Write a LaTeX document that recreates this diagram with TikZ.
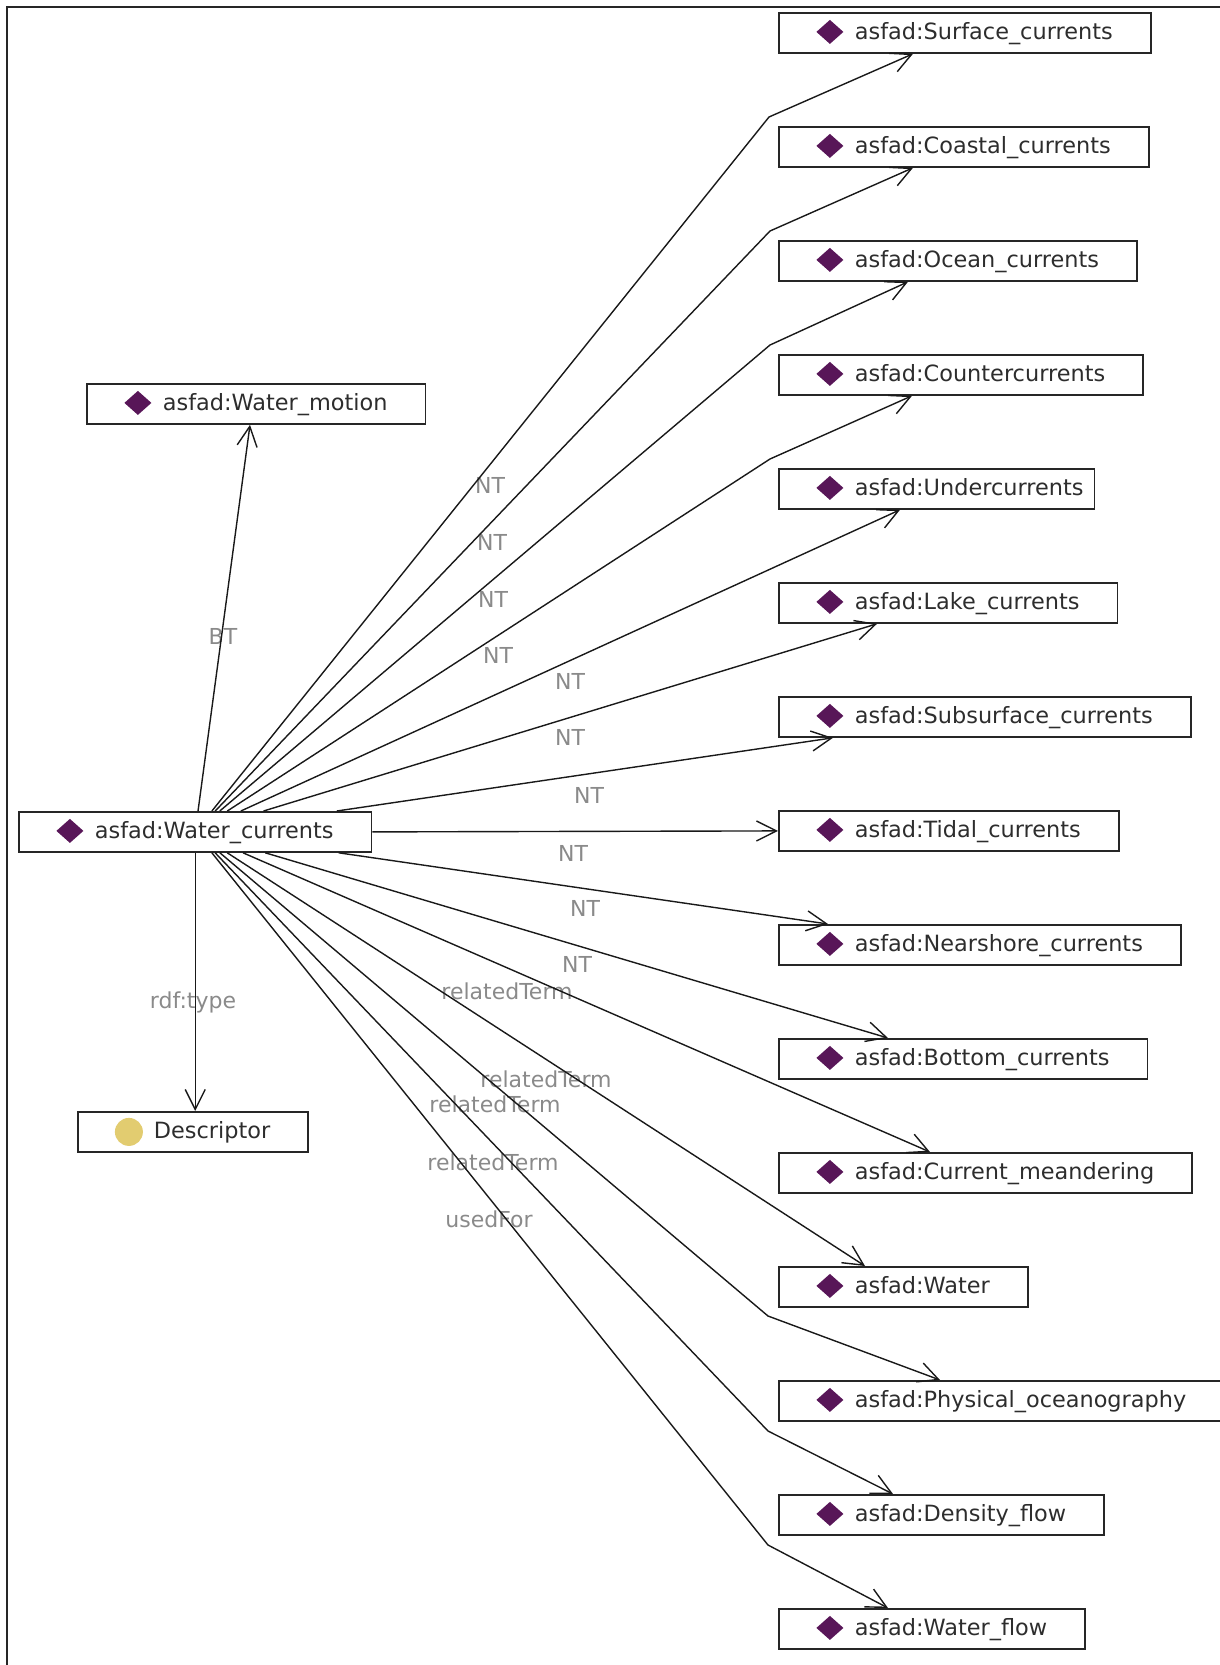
\documentclass[tikz,border=0pt]{standalone}
\usepackage{fontspec}
\setmainfont{DejaVu Sans}
\usetikzlibrary{arrows.meta}

\definecolor{gemcol}{RGB}{88,22,88}
\definecolor{dotcol}{RGB}{226,204,112}
\definecolor{lblcol}{RGB}{138,138,138}
\definecolor{txtcol}{RGB}{45,45,45}

\tikzset{
  term/.style={draw=black!85, line width=1.8pt, anchor=north west,
    minimum height=40pt, inner ysep=0pt, inner xsep=38pt,
    text height=18pt, text depth=4pt, text=txtcol,
    font=\fontsize{22.4}{26}\selectfont,
    execute at begin node=\hspace*{38pt},
    path picture={\fill[gemcol] ([xshift=51pt,yshift=1pt]path picture bounding box.west)
      +(-13.5pt,0) -- +(0,12pt) -- +(13.5pt,0) -- +(0,-12pt) -- cycle;}},
  cls/.style={term,
    path picture={\fill[dotcol] ([xshift=51pt]path picture bounding box.west) circle (14pt);}},
  rel/.style={line width=1.4pt, draw=black!90, -{Straight Barb[length=20pt,width=20pt]}},
  lbl/.style={text=lblcol, inner sep=0pt, font=\fontsize{22}{24}\selectfont},
  frame/.style={line width=2.5pt, draw=black!85}
}

\begin{document}
\begin{tikzpicture}[x=1pt,y=-1pt]
\useasboundingbox (0,0) rectangle (1220,1665);
\draw[frame] (7,1665) -- (7,7) -- (1220,7);

% left column
\node[term](wm) at (86,383){asfad:Water\_motion};
\node[term](wc) at (18,811){asfad:Water\_currents};
\node[cls](desc) at (77,1111){Descriptor};

% right column, 114 apart
\node[term](sc) at (778,12){asfad:Surface\_currents};
\node[term](cc) at (778,126){asfad:Coastal\_currents};
\node[term](oc) at (778,240){asfad:Ocean\_currents};
\node[term](ctr) at (778,354){asfad:Countercurrents};
\node[term, execute at end node=\hspace*{-27pt}](und) at (778,468){asfad:Undercurrents};
\node[term](lake) at (778,582){asfad:Lake\_currents};
\node[term](sub) at (778,696){asfad:Subsurface\_currents};
\node[term](tid) at (778,810){asfad:Tidal\_currents};
\node[term](near) at (778,924){asfad:Nearshore\_currents};
\node[term](bot) at (778,1038){asfad:Bottom\_currents};
\node[term](mea) at (778,1152){asfad:Current\_meandering};
\node[term](wat) at (778,1266){asfad:Water};
\node[term](phy) at (778,1380){asfad:Physical\_oceanography};
\node[term](den) at (778,1494){asfad:Density\_flow};
\node[term](wfl) at (778,1608){asfad:Water\_flow};

% edge labels
\node[lbl](l1) at (490,485){NT};
\node[lbl](l2) at (492,542){NT};
\node[lbl](l3) at (493,599){NT};
\node[lbl](l4) at (498,655){NT};
\node[lbl](l5) at (570,681){NT};
\node[lbl](l6) at (570,737){NT};
\node[lbl](l7) at (589,795){NT};
\node[lbl](l8) at (573,853){NT};
\node[lbl](l9) at (585,908){NT};
\node[lbl](l10) at (577,964){NT};
\node[lbl](l11) at (507,991){relatedTerm};
\node[lbl](l12) at (546,1079){relatedTerm};
\node[lbl](l13) at (495,1104){relatedTerm};
\node[lbl](l14) at (493,1162){relatedTerm};
\node[lbl](l15) at (489,1219){usedFor};
\node[lbl](l16) at (223,636){BT};
\node[lbl](l17) at (193,1002){rdf:type};

% bends
\coordinate (bsc) at (769,117);
\coordinate (bcc) at (770,231);
\coordinate (boc) at (770,345);
\coordinate (bctr) at (770,459);
\coordinate (bphy) at (768,1316);
\coordinate (bden) at (768,1431);
\coordinate (bwfl) at (768,1545);

\draw[rel] (wc) -- ([xshift=164]wm.south west);
\draw[rel] (wc) -- (wc |- desc.north);
\draw[rel] (wc) -- (bsc) -- ([xshift=135]sc.south west);
\draw[rel] (wc) -- (bcc) -- ([xshift=135]cc.south west);
\draw[rel] (wc) -- (boc) -- ([xshift=130]oc.south west);
\draw[rel] (wc) -- (bctr) -- ([xshift=134]ctr.south west);
\draw[rel] (wc) -- ([xshift=122]und.south west);
\draw[rel] (wc) -- ([xshift=99]lake.south west);
\draw[rel] (wc) -- ([xshift=55]sub.south west);
\draw[rel] (wc.east) -- (tid.west);
\draw[rel] (wc) -- ([xshift=50]near.north west);
\draw[rel] (wc) -- ([xshift=110]bot.north west);
\draw[rel] (wc) -- ([xshift=152]mea.north west);
\draw[rel] (wc) -- ([xshift=87]wat.north west);
\draw[rel] (wc) -- (bphy) -- ([xshift=162]phy.north west);
\draw[rel] (wc) -- (bden) -- ([xshift=115]den.north west);
\draw[rel] (wc) -- (bwfl) -- ([xshift=110]wfl.north west);
\end{tikzpicture}
\end{document}
